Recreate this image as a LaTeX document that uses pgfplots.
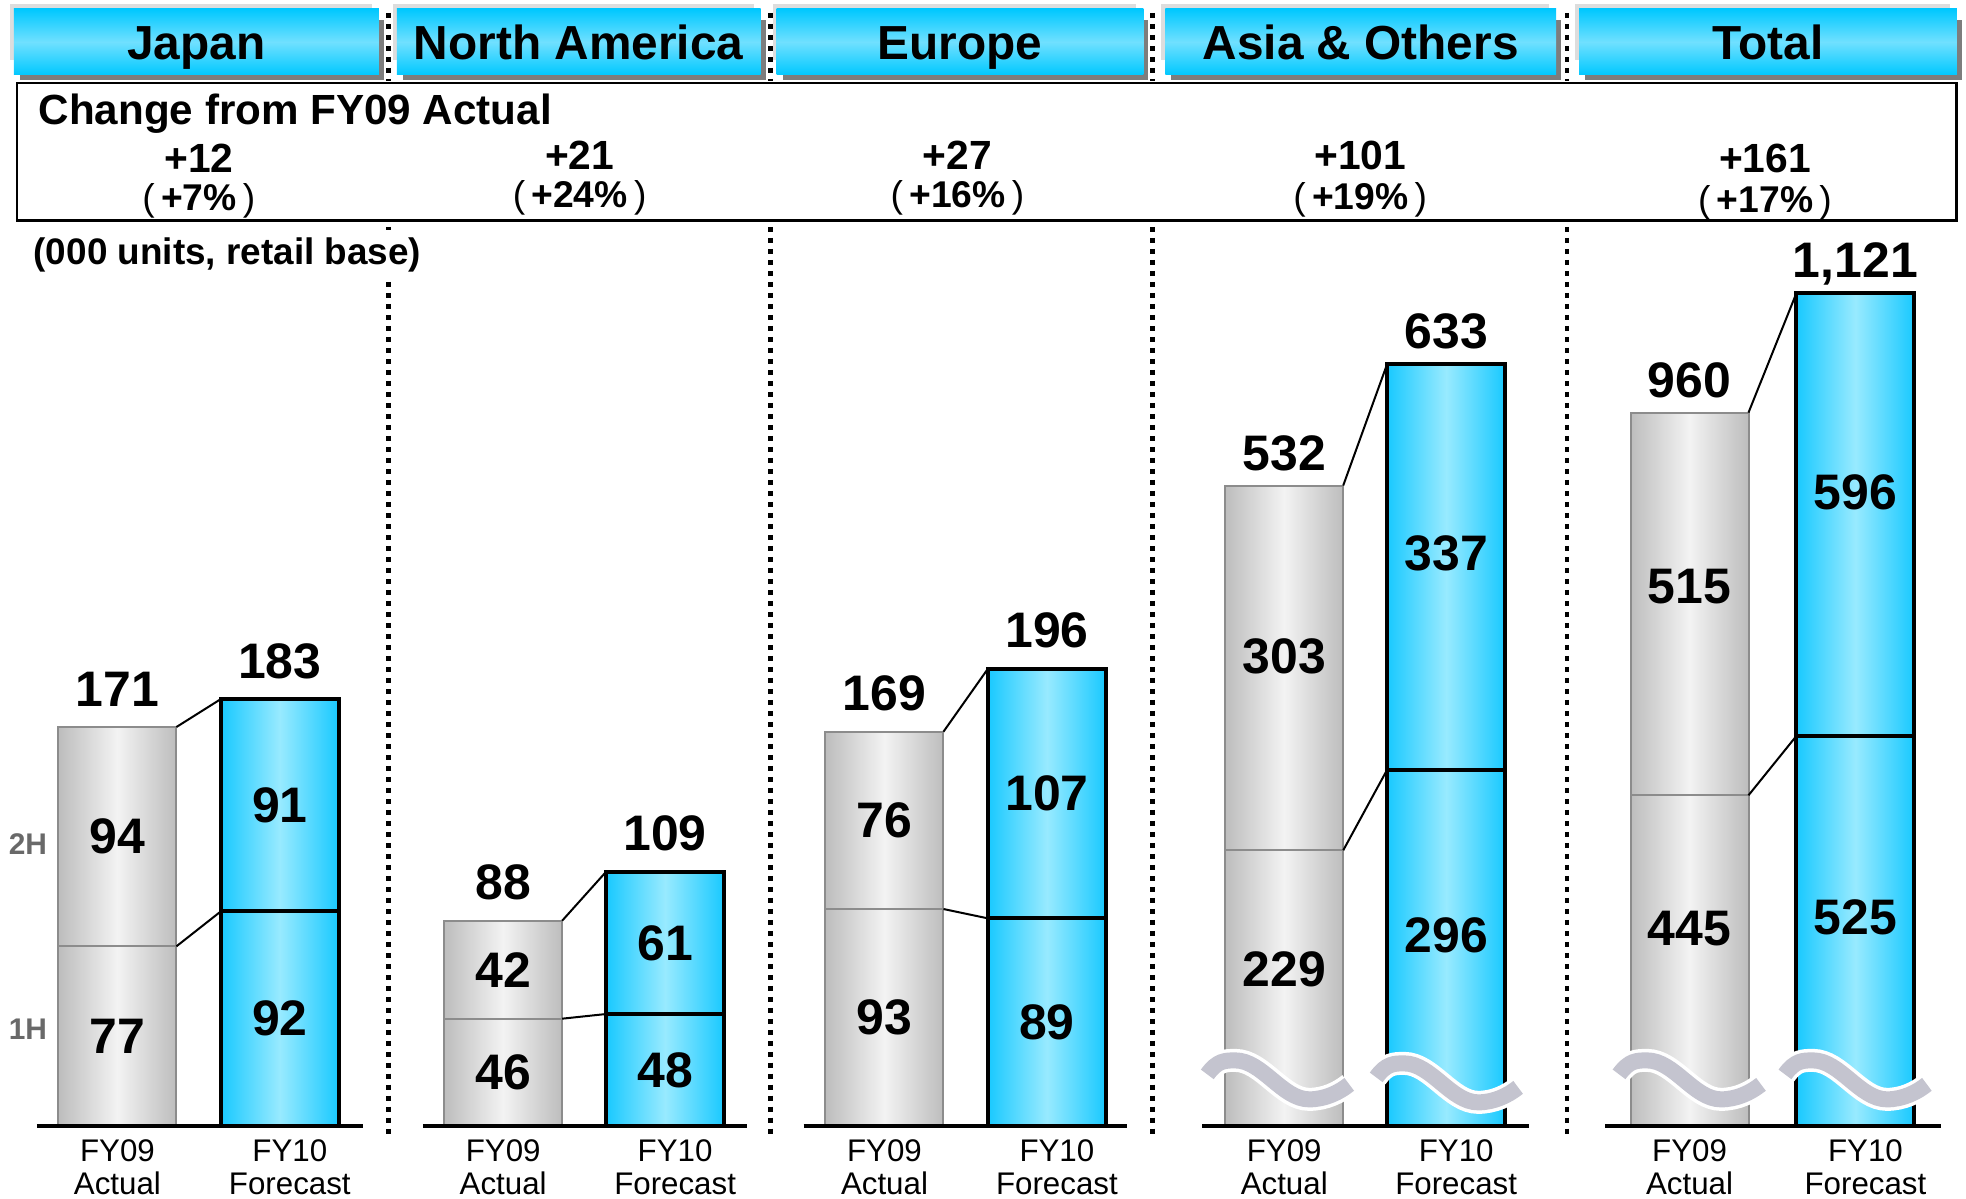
\documentclass[border=0pt]{standalone}
\usepackage{pgfplots}
\pgfplotsset{compat=1.18}
\usepackage{pgfplotstable}
\usepackage{fontspec}
\setmainfont{Liberation Sans}

\definecolor{cyanedge}{RGB}{25,201,255}
\definecolor{cyanmid}{RGB}{152,234,255}
\definecolor{grayedge}{RGB}{189,189,189}
\definecolor{graymid}{RGB}{243,243,243}
\definecolor{grayline}{RGB}{140,140,140}
\definecolor{hdrtop}{RGB}{0,200,255}
\definecolor{hdrmid}{RGB}{112,224,255}
\definecolor{wavegray}{RGB}{196,196,207}
\definecolor{shadowdark}{RGB}{125,125,125}
\definecolor{shadowlight}{RGB}{221,221,221}
\definecolor{hlabel}{RGB}{105,105,105}

% ---------------- data (000 units, retail base) ----------------
% x: bar position; h1: 1H; h2: 2H; tot: full year; y1,y2: label positions (broken panels)
\pgfplotstableread{
x      h1  h2   tot  lab
117.5  77  94   171  171
}\jpA
\pgfplotstableread{
x      h1  h2   tot  lab
280    92  91   183  183
}\jpF
\pgfplotstableread{
x      h1  h2   tot  lab
503.5  46  42   88   88
}\naA
\pgfplotstableread{
x      h1  h2   tot  lab
665.5  48  61   109  109
}\naF
\pgfplotstableread{
x      h1  h2   tot  lab
885    93  76   169  169
}\euA
\pgfplotstableread{
x      h1  h2   tot  lab
1047.5 89  107  196  196
}\euF
\pgfplotstableread{
x      h1   h2   tot  lab   y1     y2
1285   229  303  532  532   130.4  390.4
}\asiaA
\pgfplotstableread{
x      h1   h2   tot  lab   y1     y2
1447   296  337  633  633   158.6  475.9
}\asiaF
\pgfplotstableread{
x      h1   h2   tot   lab    y1     y2
1690.5 445  515  960   960    265.1  725.4
}\totA
\pgfplotstableread{
x      h1   h2   tot   lab    y1     y2
1856.5 525  596  1121  1,121  281.3  853.3
}\totF

\pgfplotsset{
  panel/.style={
    at={(0cm,-11.26cm)}, anchor=origin,
    x=0.01cm, xmin=0, xmax=1966, ymin=0,
    clip=false,
    axis line style={draw=none},
    major tick length=0pt,
    tick style={draw=none},
    ytick=\empty,
    xticklabel style={anchor=north, inner sep=0pt, yshift=-0.13cm, align=center,
      font=\fontsize{8.9}{9.3}\selectfont},
  },
  fy09/.style={ybar, bar shift=0pt, bar width=1.18cm, draw=grayline, line width=0.02cm,
    left color=grayedge, right color=grayedge, middle color=graymid},
  fy10/.style={ybar, bar shift=0pt, bar width=1.18cm, draw=black, line width=0.04cm,
    left color=cyanedge, right color=cyanedge, middle color=cyanmid},
  toplab/.style={draw=none, nodes near coords, point meta=explicit symbolic,
    every node near coord/.append style={anchor=base, yshift=#1, text=black, inner sep=0pt,
      font=\fontsize{14.2}{16}\selectfont\bfseries}},
  inlab/.style={draw=none, nodes near coords, point meta=explicit symbolic,
    every node near coord/.append style={anchor=center, text=black,
      font=\fontsize{14.2}{16}\selectfont\bfseries}},
  conn/.style={black, line width=0.02cm, unbounded coords=jump},
  baseln/.style={black, line width=0.042cm, unbounded coords=jump},
}

% one stacked bar: full-year bar, then 1H bar over its lower part
\newcommand\onebar[2]{%
  \addplot[#2] table[x=x, y=tot] {#1};
  \addplot[#2] table[x=x, y=h1] {#1};
}
% labels of a bar in the unbroken panels (halves at their midpoints)
\newcommand\jnelabels[1]{%
  \addplot[toplab=0.21cm] table[x=x, y=tot, meta=lab] {#1};
  \addplot[inlab] table[x=x, y expr=\thisrow{h1}/2, meta=h1] {#1};
  \addplot[inlab] table[x=x, y expr=\thisrow{h1}+\thisrow{h2}/2, meta=h2] {#1};
}
% labels of a bar in the broken panels
\newcommand\brklabels[1]{%
  \addplot[toplab=0.155cm] table[x=x, y=tot, meta=lab] {#1};
  \addplot[inlab] table[x=x, y=y1, meta=h1] {#1};
  \addplot[inlab] table[x=x, y=y2, meta=h2] {#1};
}

\tikzset{brk/.pic={
  \path[draw=white, line width=0.23cm] (0,0) .. controls (10,-14) and (18,-14) .. (28,-14) .. controls (55,-14) and (75,25) .. (102,25) .. controls (118,25) and (132,18) .. (142,10);
  \path[draw=wavegray, line width=0.16cm] (0,0) .. controls (10,-14) and (18,-14) .. (28,-14) .. controls (55,-14) and (75,25) .. (102,25) .. controls (118,25) and (132,18) .. (142,10);
}}

\newcommand\hdr[3]{%
  \fill[shadowlight] (#1-4,4) rectangle (#2-7,60);
  \fill[shadowdark] (#1+6,20) rectangle (#2+5,80);
  \shade[top color=hdrtop, bottom color=hdrtop, middle color=hdrmid] (#1,9) rectangle (#2,75);
  \node[anchor=base, inner sep=0pt, font=\fontsize{13.6}{16}\selectfont\bfseries] at ({(#1+#2)/2},60) {#3};
}
\newcommand\chg[5]{%
  \node[anchor=base, inner sep=0pt, font=\fontsize{11.6}{14}\selectfont\bfseries] at (#1,#2) {#3};
  \node[anchor=base, inner sep=0pt, font=\fontsize{10.6}{13}\selectfont\bfseries] at (#1,#4) {{\mdseries(}\,#5\,{\mdseries)}};
}

\begin{document}
\begin{tikzpicture}
\useasboundingbox (0,0) rectangle (19.66cm,-11.99cm);

\begin{scope}[x=0.01cm, y=-0.01cm]
  % dotted separators
  \foreach \sx in {389,771,1153,1568} {
    \draw[line width=0.047cm, dash pattern=on 0.055cm off 0.055cm] (\sx,13) -- (\sx,81);
    \draw[line width=0.047cm, dash pattern=on 0.055cm off 0.055cm] (\sx,227) -- (\sx,1135);
  }
  % headers
  \hdr{14}{379}{Japan}
  \hdr{397}{761}{North America}
  \hdr{777}{1144}{Europe}
  \hdr{1166}{1557}{Asia \& Others}
  \hdr{1580}{1958}{Total}
  % change box
  \fill[white] (17,83) rectangle (1958,221);
  \draw[line width=0.028cm] (17,83) rectangle (1958,221);
  \node[anchor=base west, inner sep=0pt, font=\fontsize{12}{14}\selectfont\bfseries] at (38,125) {Change from FY09 Actual};
  \chg{199}{173}{+12}{211}{+7\%}
  \chg{580}{170}{+21}{208}{+24\%}
  \chg{958}{170}{+27}{208}{+16\%}
  \chg{1361}{170}{+101}{210}{+19\%}
  \chg{1766}{173}{+161}{213}{+17\%}
  % units
  \node[anchor=base west, fill=white, inner xsep=0.02cm, inner ysep=0.08cm, font=\fontsize{10.5}{12}\selectfont\bfseries] at (31,265) {(000 units, retail base)};
  % half labels
  \node[font=\fontsize{8.5}{10}\selectfont\bfseries, text=hlabel] at (28,845) {2H};
  \node[font=\fontsize{8.5}{10}\selectfont\bfseries, text=hlabel] at (28,1030) {1H};
\end{scope}

% ---------- Japan / North America / Europe ----------
\begin{axis}[panel, y=0.02333cm, ymax=482,
  xtick={117.5,290,503.5,675.5,885,1057.5},
  xticklabels={{FY09\\Actual},{FY10\\Forecast},{FY09\\Actual},{FY10\\Forecast},{FY09\\Actual},{FY10\\Forecast}}]
  \onebar{\jpA}{fy09}
  \onebar{\jpF}{fy10}
  \onebar{\naA}{fy09}
  \onebar{\naF}{fy10}
  \onebar{\euA}{fy09}
  \onebar{\euF}{fy10}
  \addplot[conn] coordinates {(176.5,171) (221,183) (nan,nan) (176.5,77) (221,92)
    (nan,nan) (562.5,88) (606.5,109) (nan,nan) (562.5,46) (606.5,48)
    (nan,nan) (944,169) (988.5,196) (nan,nan) (944,93) (988.5,89)};
  \addplot[baseln] coordinates {(37,0) (363,0) (nan,nan) (423,0) (747,0) (nan,nan) (804,0) (1128,0)};
  \jnelabels{\jpA}
  \jnelabels{\jpF}
  \jnelabels{\naA}
  \jnelabels{\naF}
  \jnelabels{\euA}
  \jnelabels{\euF}
\end{axis}

% ---------- Asia & Others ----------
\begin{axis}[panel, y=0.01204cm, ymax=935,
  xtick={1285,1457},
  xticklabels={{FY09\\Actual},{FY10\\Forecast}}]
  \onebar{\asiaA}{fy09}
  \onebar{\asiaF}{fy10}
  \addplot[conn] coordinates {(1344,532) (1388,633) (nan,nan) (1344,229) (1388,296)};
  \addplot[baseln] coordinates {(1203,0) (1530,0)};
  \brklabels{\asiaA}
  \brklabels{\asiaF}
\end{axis}

% ---------- Total ----------
\begin{axis}[panel, y=0.00743cm, ymax=1515,
  xtick={1690.5,1866.5},
  xticklabels={{FY09\\Actual},{FY10\\Forecast}}]
  \onebar{\totA}{fy09}
  \onebar{\totF}{fy10}
  \addplot[conn] coordinates {(1749.5,960) (1797.5,1121) (nan,nan) (1749.5,445) (1797.5,525)};
  \addplot[baseln] coordinates {(1606,0) (1942,0)};
  \brklabels{\totA}
  \brklabels{\totF}
\end{axis}

% break marks on the Asia and Total bars
\begin{scope}[x=0.01cm, y=-0.01cm]
  \pic at (1208,1075) {brk};
  \pic at (1377,1078) {brk};
  \pic at (1620,1075) {brk};
  \pic at (1786,1075) {brk};
\end{scope}
\end{tikzpicture}
\end{document}
